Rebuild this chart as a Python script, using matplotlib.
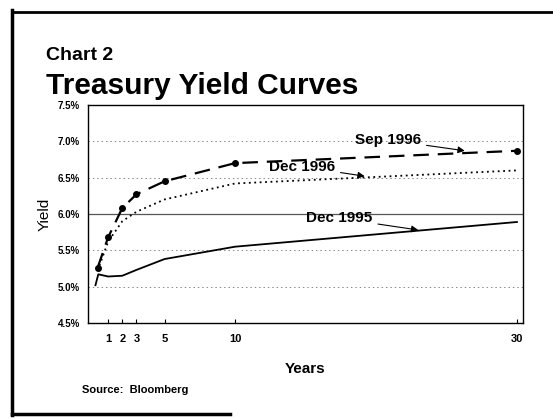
import matplotlib
matplotlib.use("Agg")
import matplotlib.pyplot as plt
from matplotlib.lines import Line2D

plt.rcParams['font.family'] = ['Liberation Sans', 'DejaVu Sans']

# ---- data ----
maturities = [0.25, 1, 2, 3, 5, 10, 30]
sep_1996 = [5.26, 5.68, 6.08, 6.27, 6.45, 6.70, 6.87]
dec_1996 = [5.22, 5.62, 5.90, 6.03, 6.20, 6.42, 6.60]
maturities_dec95 = [0.1, 0.3, 1, 2, 3, 5, 10, 30]
dec_1995 = [5.02, 5.17, 5.14, 5.15, 5.23, 5.38, 5.55, 5.89]

x_ticks = [1, 2, 3, 5, 10, 30]
x_tick_labels = ["1", "2", "3", "5", "10", "30"]
y_ticks = [4.5, 5.0, 5.5, 6.0, 6.5, 7.0, 7.5]
y_tick_labels = ["4.5%", "5.0%", "5.5%", "6.0%", "6.5%", "7.0%", "7.5%"]

W, H = 553, 419
fig = plt.figure(figsize=(W / 100, H / 100), dpi=100)
ax = fig.add_axes([88 / W, 1 - 323 / H, (523 - 88) / W, (323 - 105) / H])

# gridlines
for yv in [5.0, 5.5, 6.5, 7.0]:
    ax.axhline(yv, color="#888888", lw=0.7, ls=(0, (1.5, 3)), zorder=1)
ax.axhline(6.0, color="#555555", lw=0.9, zorder=1)

ax.plot(maturities_dec95, dec_1995, color="black", lw=1.3, zorder=3)
ax.plot(maturities, dec_1996, color="black", lw=1.3, ls=(0, (1, 2)), zorder=3)
ax.plot(maturities, sep_1996, color="black", lw=1.6, ls=(0, (7, 4)),
        marker="o", ms=4, zorder=3)

ax.set_xlim(-0.43, 30.43)
ax.set_ylim(4.5, 7.5)
ax.set_xticks(x_ticks)
ax.set_xticklabels(x_tick_labels, fontsize=8, fontweight="bold")
ax.set_yticks(y_ticks)
ax.set_yticklabels(y_tick_labels, fontsize=7, fontweight="bold")
ax.tick_params(axis="x", direction="in", length=3, pad=8)
ax.tick_params(axis="y", length=0, pad=6)
for s in ax.spines.values():
    s.set_linewidth(1.0)

ax.set_xlabel("Years", fontsize=11, fontweight="bold", labelpad=13)
ax.set_ylabel("Yield", fontsize=11, labelpad=4)

arrow = dict(arrowstyle="-|>", color="black", lw=0.8, mutation_scale=10)
ax.annotate("Sep 1996", xy=(26.3, 6.87), xytext=(20.85, 7.02),
            fontsize=11, fontweight="bold", ha="center", va="center",
            arrowprops=dict(arrow, shrinkB=0), zorder=4)
ax.annotate("Dec 1996", xy=(19.2, 6.52), xytext=(14.75, 6.65),
            fontsize=11, fontweight="bold", ha="center", va="center",
            arrowprops=dict(arrow, shrinkB=0), zorder=4)
ax.annotate("Dec 1995", xy=(23.0, 5.78), xytext=(17.4, 5.94),
            fontsize=11, fontweight="bold", ha="center", va="center",
            arrowprops=dict(arrow, shrinkB=0), zorder=4)

fig.text(46 / W, 1 - 56 / H, "Chart 2", fontsize=14, fontweight="bold",
         ha="left", va="center")
fig.text(46 / W, 1 - 86 / H, "Treasury Yield Curves", fontsize=21.5,
         fontweight="bold", ha="left", va="center")
fig.text(82 / W, 1 - 390 / H, "Source:  Bloomberg", fontsize=8,
         fontweight="bold", ha="left", va="center")

# page frame
fig.add_artist(Line2D([12 / W, 12 / W], [1 - 415 / H, 1 - 10 / H],
                      color="black", lw=2.5, transform=fig.transFigure))
fig.add_artist(Line2D([12 / W, 553 / W], [1 - 12 / H, 1 - 12 / H],
                      color="black", lw=2.0, transform=fig.transFigure))
fig.add_artist(Line2D([12 / W, 230 / W], [1 - 414 / H, 1 - 414 / H],
                      color="black", lw=2.5, transform=fig.transFigure))

fig.savefig("out.png", dpi=100)
